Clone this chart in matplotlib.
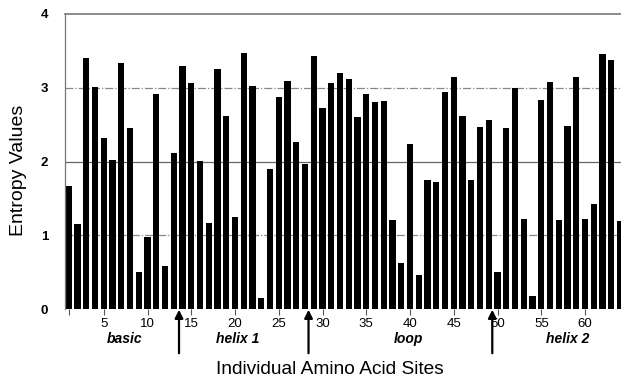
import matplotlib
matplotlib.use("Agg")
import matplotlib.pyplot as plt
import numpy as np

sites = list(range(1, 65))
entropy = [1.67, 1.15, 3.41, 3.01, 2.32, 2.02, 3.34, 2.45, 0.50, 0.97,
           2.91, 0.58, 2.11, 3.30, 3.07, 2.01, 1.16, 3.25, 2.62, 1.25,
           3.47, 3.03, 0.15, 1.90, 2.88, 3.09, 2.26, 1.96, 3.43, 2.73,
           3.07, 3.20, 3.12, 2.60, 2.91, 2.81, 2.82, 1.21, 0.63, 2.24,
           0.46, 1.75, 1.72, 2.94, 3.14, 2.62, 1.75, 2.47, 2.56, 0.50,
           2.45, 3.00, 1.22, 0.18, 2.83, 3.08, 1.21, 2.48, 3.15, 1.22,
           1.43, 3.46, 3.37, 1.19]
xticks = [1, 5, 10, 15, 20, 25, 30, 35, 40, 45, 50, 55, 60]
xticklabels = ["", "5", "10", "15", "20", "25", "30", "35", "40", "45", "50", "55", "60"]
yticks = [0, 1, 2, 3, 4]
regions = ["basic", "helix 1", "loop", "helix 2"]
region_pos = [7.4, 20.3, 39.8, 58.0]
boundaries = [13.6, 28.4, 49.4]

plt.rcParams['font.family'] = ['Liberation Sans', 'DejaVu Sans']

W, H = 621, 378
fig = plt.figure(figsize=(W / 100, H / 100), dpi=100)
ax = fig.add_axes([65 / W, 1 - 309 / H, 1 - 65 / W, (309 - 14) / H])

ax.set_xlim(0.57, 64.11)
ax.set_ylim(0, 4)

# gridlines
ax.axhline(1, color='#888888', lw=0.9, ls='-.', zorder=0)
ax.axhline(3, color='#888888', lw=0.9, ls='-.', zorder=0)
ax.axhline(2, color='#666666', lw=0.9, ls='-', zorder=0)
ax.axhline(4, color='#777777', lw=1.2, ls='-', zorder=0, clip_on=False)

ax.bar(sites, entropy, width=0.72, color='black', zorder=2)

for s in ['top', 'right', 'bottom']:
    ax.spines[s].set_visible(False)
ax.spines['left'].set_color('#777777')
ax.spines['left'].set_linewidth(0.9)

ax.set_yticks(yticks)
ax.set_yticklabels([str(v) for v in yticks], fontsize=9.5, fontweight='bold')
ax.tick_params(axis='y', length=0, pad=12)

ax.set_xticks(xticks)
ax.set_xticklabels(xticklabels, fontsize=9.5)
ax.tick_params(axis='x', length=4, width=0.8, color='#555555', pad=2.5, direction='out')

for lab, pos in zip(regions, region_pos):
    ax.text(pos, -0.41, lab, ha='center', va='center', fontsize=10,
            fontweight='bold', style='italic', transform=ax.transData, clip_on=False)

for b in boundaries:
    ax.annotate('', xy=(b, -0.01), xytext=(b, -0.6), xycoords='data',
                arrowprops=dict(arrowstyle='-|>', color='black', lw=1.6,
                                mutation_scale=12, shrinkA=0, shrinkB=0),
                annotation_clip=False)

fig.text(330 / W, 1 - 369 / H, "Individual Amino Acid Sites", ha='center', va='center',
         fontsize=13.8)
fig.text(19 / W, 1 - 170 / H, "Entropy Values", ha='center', va='center',
         rotation=90, fontsize=14)

fig.savefig("out.png", dpi=100)
